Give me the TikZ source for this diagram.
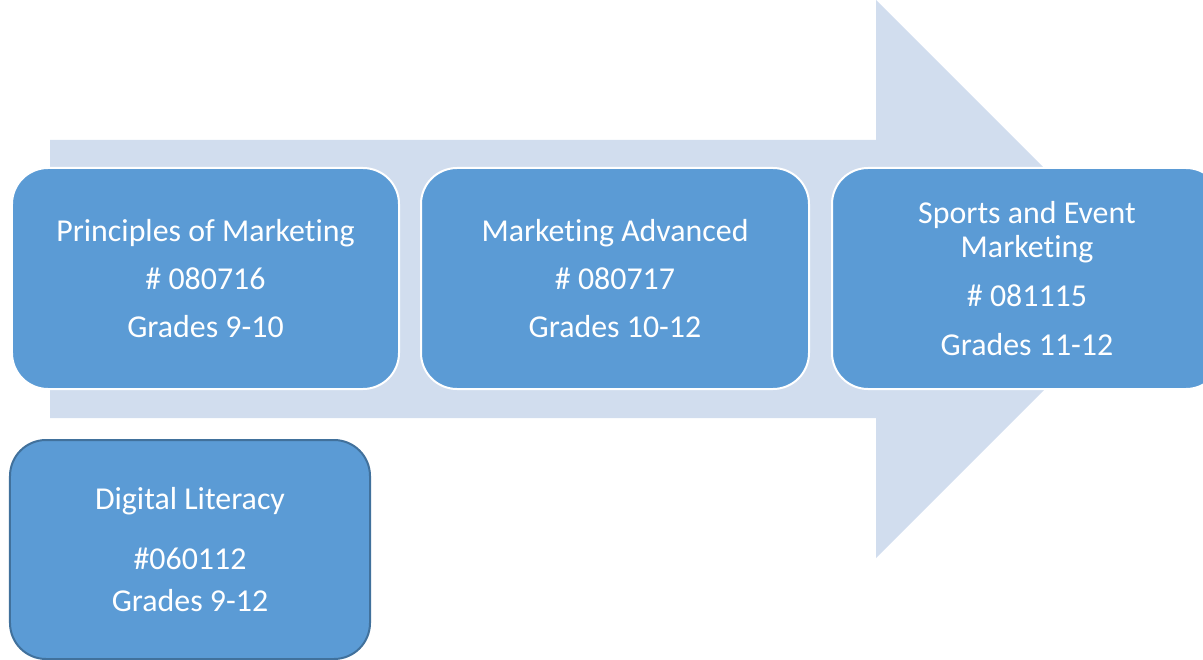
\documentclass[tikz,border=0pt]{standalone}
\usepackage{fontspec}
\setmainfont[Ligatures=NoCommon]{Carlito}
\usepackage{tikz}
\usetikzlibrary{positioning}

\definecolor{arrowblue}{RGB}{209,221,238}
\definecolor{boxblue}{RGB}{91,155,213}
\definecolor{edgeblue}{RGB}{65,113,156}

\tikzset{
  course/.style={rectangle,rounded corners=36bp,fill=boxblue,draw=white,line width=2bp,
    text=white,align=center,inner sep=0pt,
    font=\fontsize{32}{34}\selectfont},
}

\begin{document}
\begin{tikzpicture}[x=1bp,y=-1bp]
    \useasboundingbox (0,0) rectangle (1203,660);
    \clip (0,0) rectangle (1203,660);
    % big arrow behind the boxes
    \fill [arrowblue] (50,140) -- (876,140) -- (876,0) -- (1155,279)
        -- (876,558) -- (876,418) -- (50,418) -- cycle;

    \node [course,minimum width=387bp,minimum height=221bp] (principles) at (205.5, 278.5)
        {Principles of Marketing\\[14bp]\# 080716\\[14bp]Grades 9-10};
    \node [course,minimum width=388bp,minimum height=221bp] (advanced) at (615, 278.5)
        {Marketing Advanced\\[14bp]\# 080717\\[14bp]Grades 10-12};
    \node [course,minimum width=390bp,minimum height=221bp] (sports) at (1027, 278.5)
        {Sports and Event\\Marketing\\[16bp]\# 081115\\[15bp]Grades 11-12};

    \node [course,draw=edgeblue,minimum width=360bp,minimum height=219bp] (digital) at (190, 549.5)
        {Digital Literacy\\[26bp]\#060112\\[8bp]Grades 9-12};
  \end{tikzpicture}
\end{document}
